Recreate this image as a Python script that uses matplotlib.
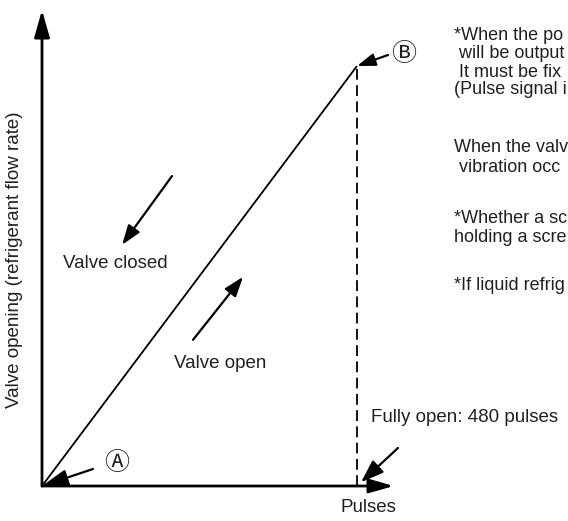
import matplotlib
matplotlib.use("Agg")
import matplotlib.pyplot as plt

plt.rcParams['font.family'] = ['Liberation Sans', 'Noto Sans CJK JP', 'DejaVu Sans']

# valve characteristic: pulses vs opening (0..1)
pulses = [0, 480]
opening = [0.0, 1.0]
full_open = 480
x_axis_end = 536
y_axis_end = 1.133

# notes on the right run off the page in the source image
notes = [
    "*When the po",
    " will be output",
    " It must be fix",
    "(Pulse signal i",
    "When the valv",
    " vibration occ",
    "*Whether a sc",
    "holding a scre",
    "*If liquid refrig",
]
note_rows = [35, 53, 72, 90, 148, 167, 218, 237, 285]

INK = '#231f20'
W, H = 568, 521

fig = plt.figure(figsize=(W / 100, H / 100), dpi=100)
ax = fig.add_axes([0, 0, 1, 1])
ax.set_xlim(-42 * 480 / 315, (W - 42) * 480 / 315)
ax.set_ylim(-(H - 486) / 420, 486 / 420)
ax.axis('off')


def arrow(xy, xytext, hl, hw, lw=1.6, coords='data', shrink=0):
    ax.annotate('', xy=xy, xytext=xytext, textcoords=coords,
                arrowprops=dict(arrowstyle=f'-|>,head_length={hl},head_width={hw}',
                                mutation_scale=1, lw=lw, color='k',
                                shrinkA=0, shrinkB=shrink))


# axes
arrow((0, y_axis_end), (0, 0), 16.5, 4.7, lw=2)
arrow((x_axis_end, 0), (0, 0), 15, 4.3, lw=2)

# characteristic line and full open marker
ax.plot(pulses, opening, color='k', lw=1.3, solid_capstyle='butt')
ax.vlines(full_open, 0, opening[-1], colors='k', lw=1.3, linestyles=(0, (6, 3)))

# direction arrows
arrow((121.9, 0.574), (198.1, 0.738), 12, 4.2)
arrow((306.3, 0.498), (230.1, 0.348), 12, 4.2)

# pointer arrows
arrow((pulses[0], opening[0]), (51, 17), 16, 5, coords='offset pixels')
arrow((pulses[-1], opening[-1]), (31, 11), 11, 3.8, coords='offset pixels')
arrow((full_open, 0), (41, 38), 14, 5, coords='offset pixels', shrink=4)

circ_font = ['Noto Sans CJK JP', 'DejaVu Sans']
ax.text(114.3, 0.055, '\u24b6', fontsize=18, ha='center', va='center', color=INK,
        family=circ_font)
ax.text(551.6, 1.029, '\u24b7', fontsize=18, ha='center', va='center', color=INK,
        family=circ_font)

fs = 13.5
fig.text(63 / W, 1 - 263 / H, 'Valve closed', fontsize=fs, va='center', color=INK)
fig.text(174 / W, 1 - 364 / H, 'Valve open', fontsize=fs, va='center', color=INK)
fig.text(371 / W, 1 - 417 / H, 'Fully open: 480 pulses', fontsize=fs, va='center', color=INK)
fig.text(368 / W, 1 - 508 / H, 'Pulses', fontsize=fs, ha='center', va='center', color=INK)
fig.text(15 / W, 1 - 260 / H, 'Valve opening (refrigerant flow rate)', fontsize=fs,
         rotation=90, ha='center', va='center', color=INK)

for line, row in zip(notes, note_rows):
    fig.text(454 / W, 1 - row / H, line, fontsize=13, va='center', color=INK)

fig.savefig('out.png', dpi=100)
